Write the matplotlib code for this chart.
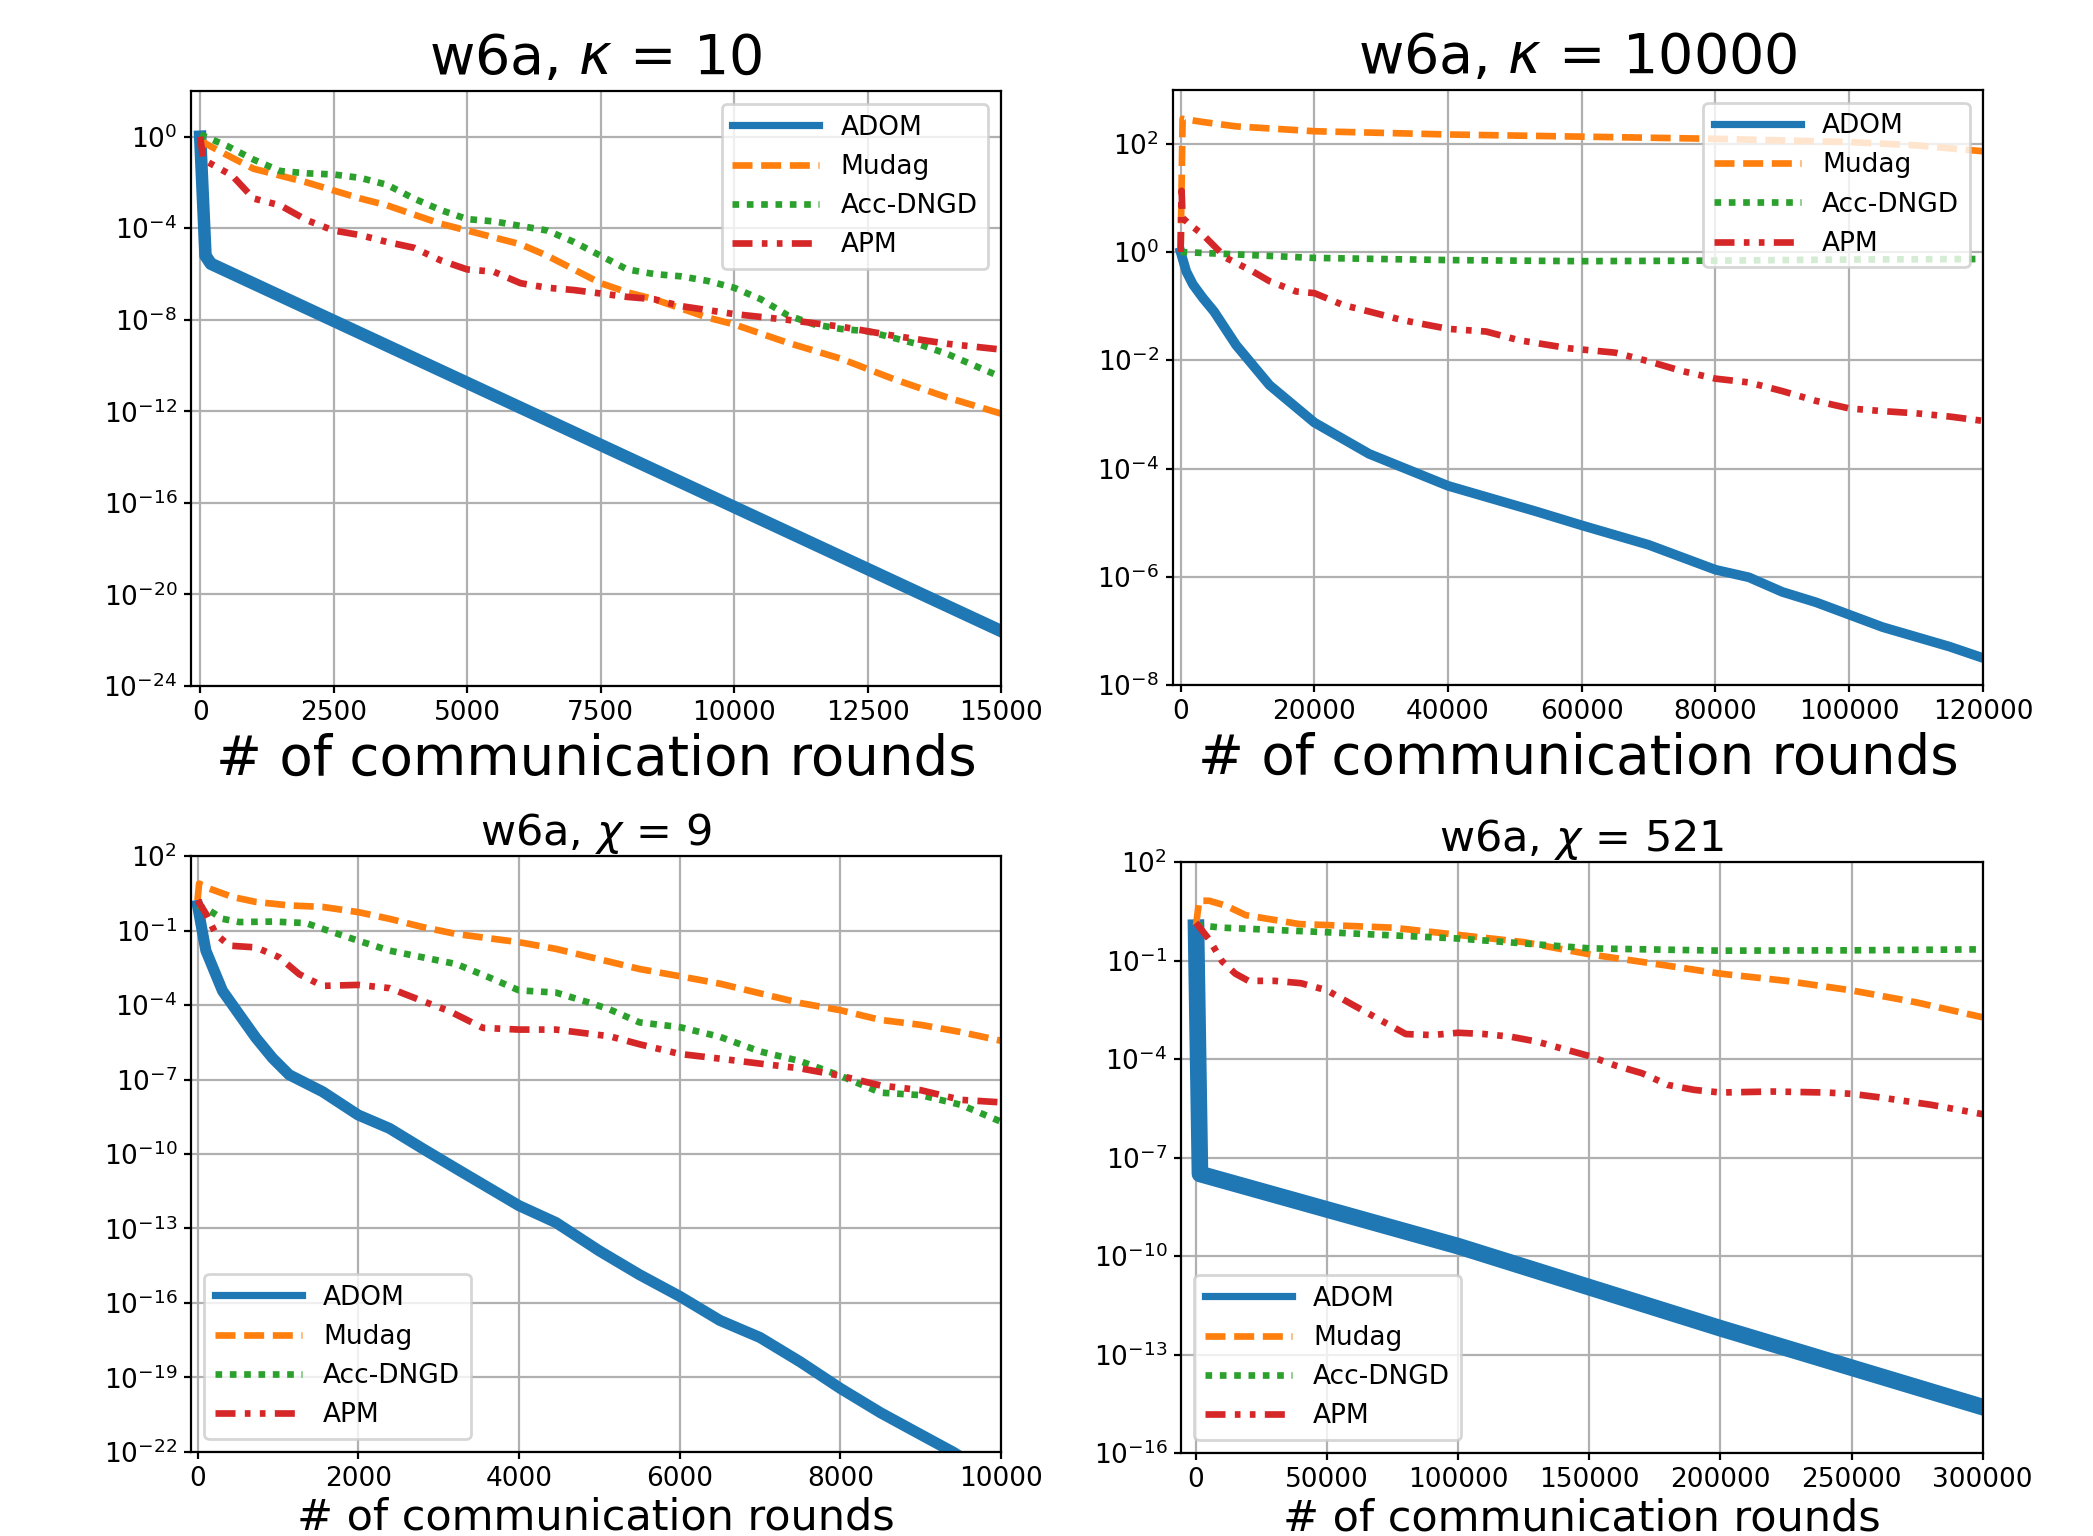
import numpy as np
import matplotlib
matplotlib.use("Agg")
import matplotlib.pyplot as plt
from matplotlib.ticker import NullLocator

methods = ["ADOM", "Mudag", "Acc-DNGD", "APM"]
colors = ["#1f77b4", "#ff7f0e", "#2ca02c", "#d62728"]
styles = ["-", (0, (3.0, 1.3)), (0, (1.0, 1.15)), (0, (3.0, 1.4, 0.85, 1.4, 0.85, 1.4))]

# ---- w6a, kappa = 10  (y values stored as log10) ----
k10_adom_x = [0, 100, 200, 15000]
k10_adom_y = [0.0, -5.2, -5.55, -21.6]
k10_mudag_x = [0, 100, 500, 1000, 1500, 2000, 3000, 3500, 4000, 4500, 5000, 5500, 6000, 6500,
               7000, 7500, 8000, 8500, 9000, 9500, 10000, 11000, 12000, 13000, 14000, 15000]
k10_mudag_y = [-0.05, -0.3, -0.8, -1.4, -1.7, -2.0, -2.7, -3.0, -3.4, -3.8, -4.1, -4.4, -4.7, -5.2,
               -5.8, -6.4, -6.8, -7.1, -7.5, -7.9, -8.2, -9.0, -9.7, -10.6, -11.4, -12.1]
k10_dngd_x = [0, 500, 1000, 1500, 2000, 2500, 3000, 3500, 4000, 4500, 5000, 5500, 6000, 6500,
              7000, 7500, 8000, 8500, 9000, 9500, 10000, 10500, 11000, 11500, 12000, 12500,
              13000, 13500, 14000, 14500, 15000]
k10_dngd_y = [0.1, -0.4, -1.0, -1.5, -1.6, -1.65, -1.8, -2.1, -2.7, -3.2, -3.6, -3.7, -3.9, -4.1,
              -4.6, -5.2, -5.8, -6.0, -6.1, -6.3, -6.6, -7.1, -7.8, -8.2, -8.4, -8.5,
              -8.8, -9.1, -9.5, -10.0, -10.5]
k10_apm_x = [0, 60, 600, 1000, 1500, 2000, 2500, 3000, 3500, 4000, 4500, 5000, 5500, 6000, 6500,
             7000, 7500, 8000, 8500, 9000, 10000, 11000, 12000, 13000, 14000, 15000]
k10_apm_y = [0.0, -1.0, -1.7, -2.7, -3.0, -3.65, -4.1, -4.3, -4.6, -4.85, -5.4, -5.8, -5.9, -6.4,
             -6.6, -6.7, -6.85, -7.0, -7.1, -7.4, -7.75, -8.0, -8.3, -8.7, -9.05, -9.3]

# ---- w6a, kappa = 10000 ----
k1e4_adom_x = [0, 850, 1840, 3330, 5000, 8300, 13300, 20000, 28200, 40000, 53100, 60000, 65000,
               70000, 75000, 80000, 85000, 90000, 95000, 100000, 105000, 110000, 115000, 120000]
k1e4_adom_y = [0.0, -0.36, -0.6, -0.85, -1.1, -1.72, -2.46, -3.15, -3.73, -4.32, -4.79, -5.05,
               -5.23, -5.41, -5.64, -5.87, -6.01, -6.28, -6.47, -6.7, -6.93, -7.11, -7.29, -7.5]
k1e4_mudag_x = [0, 300, 3330, 8300, 20000, 40000, 60000, 80000, 100000, 110000, 120000]
k1e4_mudag_y = [0.0, 2.46, 2.4, 2.32, 2.23, 2.17, 2.13, 2.09, 2.03, 1.97, 1.86]
k1e4_dngd_x = [0, 20000, 40000, 60000, 80000, 100000, 120000]
k1e4_dngd_y = [0.0, -0.11, -0.15, -0.17, -0.16, -0.14, -0.13]
k1e4_apm_x = [0, 150, 300, 1340, 3330, 6800, 10800, 13300, 17300, 20000, 24300, 28200, 33200,
              40000, 45700, 50600, 58100, 65000, 70000, 75000, 80000, 85000, 90000,
              95000, 100000, 105000, 110000, 115000, 120000]
k1e4_apm_y = [0.0, 1.13, 0.63, 0.51, 0.32, -0.11, -0.36, -0.54, -0.73, -0.76, -0.98, -1.1, -1.26,
              -1.42, -1.47, -1.63, -1.78, -1.86, -2.02, -2.2, -2.34, -2.41, -2.57,
              -2.75, -2.89, -2.94, -2.98, -3.04, -3.12]

# ---- w6a, chi = 9 ----
c9_adom_x = [0, 104, 311, 519, 726, 934, 1141, 1556, 2000, 2390, 2800, 3220, 4000, 4460, 5000,
             5500, 6000, 6500, 7000, 7500, 8000, 8500, 9000, 9400, 9600]
c9_adom_y = [0.01, -1.81, -3.43, -4.38, -5.32, -6.14, -6.81, -7.49, -8.43, -8.97, -9.78, -10.59,
             -12.08, -12.76, -13.9, -14.86, -15.73, -16.7, -17.39, -18.37, -19.44,
             -20.42, -21.3, -22.0, -22.4]
c9_mudag_x = [0, 20, 145, 436, 726, 1141, 1556, 2000, 2390, 2800, 3220, 4000, 4460, 5080, 5500,
              6000, 6500, 7000, 7500, 8000, 8500, 9000, 9500, 10000]
c9_mudag_y = [0.22, 0.89, 0.69, 0.35, 0.15, 0.01, -0.05, -0.26, -0.53, -0.86, -1.14, -1.47, -1.74,
              -2.22, -2.55, -2.84, -3.14, -3.53, -3.92, -4.21, -4.6, -4.8, -5.09, -5.44]
c9_dngd_x = [0, 145, 311, 519, 934, 1349, 1556, 2000, 2390, 2800, 3220, 3630, 4000, 4460, 4880,
             5130, 5500, 6000, 6500, 7000, 7500, 8000, 8500, 9000, 9500, 10000]
c9_dngd_y = [0.01, -0.19, -0.53, -0.66, -0.64, -0.7, -0.93, -1.41, -1.81, -2.08, -2.35, -2.89,
             -3.41, -3.5, -3.91, -4.18, -4.7, -4.89, -5.28, -5.87, -6.26, -6.85, -7.53, -7.63,
             -8.02, -8.7]
c9_apm_x = [0, 104, 228, 394, 726, 1017, 1266, 1556, 2000, 2390, 2800, 3130, 3550, 4000, 4460,
            5130, 5500, 6000, 6500, 7000, 7500, 8000, 8500, 9000, 9500, 10000]
c9_apm_y = [0.22, -0.32, -1.14, -1.61, -1.68, -2.08, -2.76, -3.23, -3.19, -3.32, -3.84, -4.24,
            -4.92, -4.99, -4.99, -5.26, -5.58, -5.97, -6.16, -6.36, -6.55, -6.85, -7.24, -7.43,
            -7.82, -7.92]

# ---- w6a, chi = 521 ----
c521_adom_x = [0, 1500, 100000, 200000, 300000]
c521_adom_y = [0.0, -7.5, -9.7, -12.2, -14.6]
c521_mudag_x = [0, 1200, 5000, 11400, 19000, 39400, 50000, 75000, 100000, 125000, 150000, 175000,
                200000, 225000, 250000, 275000, 300000]
c521_mudag_y = [0.08, 0.82, 0.82, 0.67, 0.38, 0.11, 0.08, 0.0, -0.22, -0.44, -0.81, -1.1, -1.4,
                -1.62, -1.91, -2.28, -2.73]
c521_dngd_x = [0, 10000, 50000, 100000, 150000, 200000, 250000, 300000]
c521_dngd_y = [0.08, 0.0, -0.14, -0.33, -0.63, -0.7, -0.69, -0.66]
c521_apm_x = [0, 5000, 10000, 15000, 20000, 30000, 40000, 50000, 60000, 70000, 80000, 90000,
              100000, 110000, 120000, 130000, 140000, 150000, 160000, 170000, 180000, 190000,
              200000, 220000, 240000, 250000, 260000, 280000, 300000]
c521_apm_y = [0.15, -0.36, -1.03, -1.4, -1.62, -1.62, -1.69, -1.91, -2.36, -2.8, -3.24, -3.27,
              -3.2, -3.24, -3.32, -3.47, -3.69, -3.91, -4.2, -4.43, -4.79, -4.94, -5.02, -4.99,
              -5.02, -5.06, -5.16, -5.39, -5.68]

panels = [
    dict(rect=[0.0913, 0.5534, 0.387, 0.3874], title=r"w6a, $\kappa$ = 10", big=True,
         xlim=(-170, 15000), xticks=range(0, 15001, 2500), ylim=(1e-24, 1e2), yexp=range(-24, 1, 4),
         loc="upper right", adom_lw=4.5,
         series=[(k10_adom_x, k10_adom_y), (k10_mudag_x, k10_mudag_y),
                 (k10_dngd_x, k10_dngd_y), (k10_apm_x, k10_apm_y)]),
    dict(rect=[0.5604, 0.554, 0.387, 0.3877], title=r"w6a, $\kappa$ = 10000", big=True,
         xlim=(-1150, 120000), xticks=range(0, 120001, 20000), ylim=(1e-8, 1e3), yexp=range(-8, 3, 2),
         loc="upper right", adom_lw=3.5,
         series=[(k1e4_adom_x, k1e4_adom_y), (k1e4_mudag_x, k1e4_mudag_y),
                 (k1e4_dngd_x, k1e4_dngd_y), (k1e4_apm_x, k1e4_apm_y)]),
    dict(rect=[0.0913, 0.0547, 0.387, 0.388], title=r"w6a, $\chi$ = 9", big=False,
         xlim=(-80, 10000), xticks=range(0, 10001, 2000), ylim=(1e-22, 1e2), yexp=range(-22, 3, 3),
         loc="lower left", adom_lw=4,
         series=[(c9_adom_x, c9_adom_y), (c9_mudag_x, c9_mudag_y),
                 (c9_dngd_x, c9_dngd_y), (c9_apm_x, c9_apm_y)]),
    dict(rect=[0.5643, 0.054, 0.383, 0.3848], title=r"w6a, $\chi$ = 521", big=False,
         xlim=(-5700, 300000), xticks=range(0, 300001, 50000), ylim=(1e-16, 1e2), yexp=range(-16, 3, 3),
         loc="lower left", adom_lw=6,
         series=[(c521_adom_x, c521_adom_y), (c521_mudag_x, c521_mudag_y),
                 (c521_dngd_x, c521_dngd_y), (c521_apm_x, c521_apm_y)]),
]

fig = plt.figure(figsize=(10.465, 7.68), dpi=200)

for p in panels:
    ax = fig.add_axes(p["rect"])
    for i, (xs, ys) in enumerate(p["series"]):
        lw = p["adom_lw"] if i == 0 else 2.4
        ax.plot(xs, np.power(10.0, ys), color=colors[i], linestyle=styles[i], lw=lw,
                label=methods[i])
    ax.set_yscale("log")
    ax.set_xlim(*p["xlim"])
    ax.set_ylim(*p["ylim"])
    ax.set_xticks(list(p["xticks"]))
    ax.set_yticks([10.0 ** e for e in p["yexp"]])
    ax.yaxis.set_minor_locator(NullLocator())
    ax.tick_params(labelsize=9.5, length=2.6, pad=2.4)
    ax.grid(True)
    if p["big"]:
        ax.set_title(p["title"], fontsize=20)
        ax.set_xlabel("# of communication rounds", fontsize=19.7, labelpad=2.5)
    else:
        ax.set_title(p["title"], fontsize=15.5, pad=4)
        ax.set_xlabel("# of communication rounds", fontsize=15.5, labelpad=1.5)
    leg = ax.legend(loc=p["loc"], fontsize=9.5, handlelength=3.3)
    leg.get_lines()[0].set_linewidth(2.6)

fig.savefig("out.png", dpi=200)
